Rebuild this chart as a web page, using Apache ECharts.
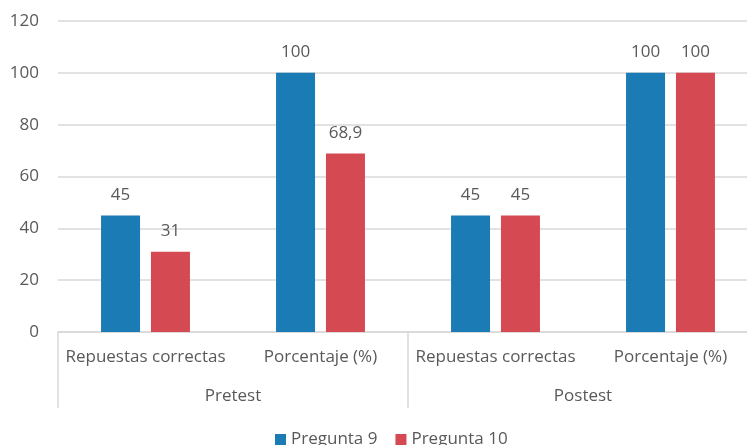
<!DOCTYPE html>
<html>
<head>
<meta charset="utf-8">
<script src="https://cdn.jsdelivr.net/npm/echarts@6/dist/echarts.min.js"></script>
<style>
  html, body { margin: 0; padding: 0; background: #fff; overflow: hidden; }
  /* canvas is a little wider than the window: the last category runs off the right edge */
  #chart { width: 758px; height: 445px; }
</style>
</head>
<body>
<div id="chart"></div>
<script>
// Inner categories (one per bar group) and the outer phase groups
var categories = ['Repuestas correctas', 'Porcentaje (%)', 'Repuestas correctas', 'Porcentaje (%)'];
var groups = ['Pretest', 'Postest'];
var pregunta9 = [45, 100, 45, 100];
var pregunta10 = [31, 68.9, 45, 100];
var seriesNames = ['Pregunta 9', 'Pregunta 10'];
var yTicks = { min: 0, max: 120, interval: 20 };

var textColor = '#595959';
var lineColor = '#d9d9d9';
var font = 'Open Sans';

function fmt(v) { return String(v).replace('.', ','); }

var chart = echarts.init(document.getElementById('chart'));
chart.setOption({
  animation: false,
  textStyle: { fontFamily: font },
  grid: { left: 58, right: 0, top: 21, bottom: 113, containLabel: false },
  legend: {
    top: 426,
    left: 270,
    itemWidth: 11,
    itemHeight: 11,
    itemGap: 18,
    icon: 'rect',
    textStyle: { color: textColor, fontSize: 17, fontFamily: font },
    data: seriesNames
  },
  xAxis: [
    {
      type: 'category',
      data: categories,
      axisLine: { lineStyle: { color: lineColor, width: 1.5 } },
      axisTick: { show: false },
      axisLabel: { color: textColor, fontSize: 17, margin: 17, interval: 0 }
    },
    {
      type: 'category',
      data: groups,
      position: 'bottom',
      axisLine: { show: false },
      axisTick: { show: true, length: 76, lineStyle: { color: lineColor, width: 1.5 } },
      axisLabel: { color: textColor, fontSize: 17, margin: 56, interval: 0 },
      splitLine: { show: false }
    }
  ],
  yAxis: {
    type: 'value',
    min: yTicks.min,
    max: yTicks.max,
    interval: yTicks.interval,
    axisLine: { show: false },
    axisTick: { show: false },
    axisLabel: { color: textColor, fontSize: 17, margin: 19 },
    splitLine: { lineStyle: { color: lineColor, width: 1.5 } }
  },
  series: [
    {
      name: seriesNames[0],
      type: 'bar',
      xAxisIndex: 0,
      data: pregunta9,
      barWidth: 39,
      barGap: '28%',
      itemStyle: { color: '#1b7bb5' },
      label: { show: true, position: 'top', distance: 12, color: textColor, fontSize: 17, formatter: function (p) { return fmt(p.value); } }
    },
    {
      name: seriesNames[1],
      type: 'bar',
      xAxisIndex: 0,
      data: pregunta10,
      barWidth: 39,
      barGap: '28%',
      itemStyle: { color: '#d54a52' },
      label: { show: true, position: 'top', distance: 12, color: textColor, fontSize: 17, formatter: function (p) { return fmt(p.value); } }
    }
  ]
});
</script>
</body>
</html>
